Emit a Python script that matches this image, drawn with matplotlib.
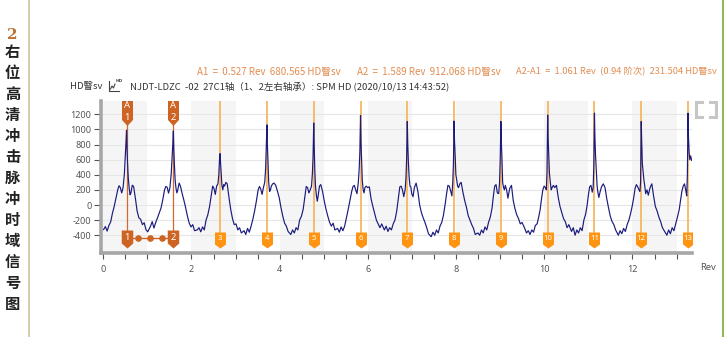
import matplotlib
matplotlib.use("Agg")
import matplotlib.pyplot as plt
import numpy as np
from matplotlib.path import Path
from matplotlib.lines import Line2D
from matplotlib.ticker import FixedLocator, MultipleLocator

plt.rcParams['font.family'] = ['Noto Sans CJK SC', 'DejaVu Sans']

# ---- data -------------------------------------------------------------
# cursor / harmonic cursor positions (Rev)
harmonic_pos = [0.527, 1.589, 2.650, 3.711, 4.772, 5.833, 6.894,
                7.955, 9.016, 10.077, 11.138, 12.199, 13.260]
harmonic_labels = ['1', '2', '3', '4', '5', '6', '7', '8', '9', '10', '11', '12', '13']
link_dots = [0.792, 1.058, 1.324]

# sampling offsets (Rev) around each impact
pulse_offsets = [-0.52, -0.48, -0.44, -0.40, -0.36, -0.32, -0.28, -0.24, -0.20,
                 -0.17, -0.14, -0.11, -0.08, -0.05, -0.03, -0.015, 0.0, 0.01,
                 0.025, 0.04, 0.06, 0.08, 0.10, 0.13, 0.16, 0.20, 0.24, 0.28,
                 0.32, 0.36, 0.40, 0.44, 0.48]

# HD amplitude for each impact segment
pulse_1 = [-325, -285, -345, -270, -225, -110, -20, 90, 200, 255, 230, 160, 225, 400, 620, 800,
           990, 750, 530, 356, 224, 136, 160, 262, 246, 92, -80, -170, -190, -260, -235, -325, -355]
pulse_2 = [-283, -220, -305, -230, -170, -105, -40, 70, 200, 246, 235, 158, 224, 400, 620, 780,
           980, 750, 520, 330, 220, 160, 200, 290, 250, 150, 60, -40, -150, -240, -290, -260, -340]
pulse_3 = [-330, -300, -355, -290, -330, -200, -130, -20, 130, 250, 220, 140, 250, 280, 400, 600,
           680, 550, 400, 260, 200, 270, 250, 300, 280, 100, -60, -180, -260, -250, -330, -300, -370]
pulse_4 = [-340, -390, -310, -360, -280, -190, -80, 50, 200, 245, 210, 140, 230, 300, 480, 750,
           1060, 800, 560, 300, 180, 200, 250, 280, 290, 260, 180, 92, -40, -150, -240, -280, -350]
pulse_5 = [-390, -330, -370, -300, -330, -200, -150, -60, 120, 245, 230, 160, 200, 250, 420, 650,
           1085, 800, 450, 250, 130, 50, 120, 250, 270, 180, 50, -60, -150, -230, -280, -240, -330]
pulse_6 = [-310, -360, -290, -340, -280, -170, -60, 60, 180, 245, 260, 200, 150, 300, 480, 700,
           1185, 850, 600, 330, 200, 160, 230, 250, 230, 240, 80, -20, -110, -200, -250, -300, -250]
pulse_7 = [-330, -280, -350, -300, -330, -250, -200, -80, 100, 240, 250, 200, 110, 200, 360, 620,
           1105, 820, 560, 380, 250, 240, 150, 110, 230, 290, 180, 0, -100, -170, -230, -300, -380]
pulse_8 = [-420, -360, -400, -330, -370, -280, -230, -130, 20, 150, 260, 250, 190, 120, 300, 550,
           1110, 850, 650, 400, 330, 250, 230, 280, 300, 170, 60, -30, -140, -200, -260, -310, -390]
pulse_9 = [-370, -400, -330, -370, -290, -330, -230, -160, -40, 120, 250, 270, 160, 150, 300, 600,
           1105, 850, 600, 300, 230, 200, 260, 200, 90, 220, 260, 60, -50, -130, -180, -250, -230]
pulse_10 = [-310, -370, -340, -390, -330, -360, -270, -250, -150, -60, 80, 200, 250, 230, 200, 450,
            1190, 900, 650, 420, 300, 200, 230, 260, 230, 260, 100, -20, -100, -180, -220, -300, -260]
pulse_11 = [-350, -300, -400, -330, -370, -300, -340, -200, -120, -20, 120, 240, 260, 170, 230, 500,
            1215, 900, 650, 480, 250, 160, 100, 180, 240, 280, 230, 80, -40, -150, -220, -260, -330]
pulse_12 = [-400, -340, -380, -310, -350, -260, -200, -110, 0, 100, 220, 270, 240, 200, 180, 300,
            1105, 850, 550, 450, 330, 250, 150, 200, 130, 230, 280, 120, -20, -80, -160, -220, -300]
pulse_13 = [-360, -400, -330, -380, -300, -340, -250, -160, -60, 60, 180, 250, 280, 190, 120, 400,
            1215, 900, 700, 600, 650, 590, 600]
pulses = [pulse_1, pulse_2, pulse_3, pulse_4, pulse_5, pulse_6, pulse_7,
          pulse_8, pulse_9, pulse_10, pulse_11, pulse_12, pulse_13]

y_ticks = [-400, -200, 0, 200, 400, 600, 800, 1000, 1200]
x_ticks = [0, 2, 4, 6, 8, 10, 12]

unit = 'HD瞖sv'
cursor_text = ['A1  =  0.527 Rev  680.565 ' + unit,
               'A2  =  1.589 Rev  912.068 ' + unit,
               'A2-A1  =  1.061 Rev  (0.94 阶次)  231.504 ' + unit]
title_text = 'NJDT-LDZC  -02  27C1轴（1、2左右轴承）: SPM HD (2020/10/13 14:43:52)'
side_title = ['右', '位', '高', '清', '冲', '击', '脉', '冲', '时', '域', '信', '号', '图']

# ---- figure -----------------------------------------------------------
W, H = 725, 337
fig = plt.figure(figsize=(W / 100, H / 100), dpi=100)
fig.patch.set_facecolor('white')


def fx(px):
    return px / W


def fy(py):
    return 1 - py / H


ax = fig.add_axes([fx(101), fy(253), fx(692) - fx(101), fy(101) - fy(253)])
ax.set_xlim(-0.052, 13.35)
ax.set_ylim(-635, 1376)
ax.set_facecolor('white')

# alternating column bands
for start in range(0, 14, 2):
    ax.axvspan(start, min(start + 1, 13.35), color='#f5f5f5', lw=0, zorder=0)

# horizontal grid
for yv in y_ticks:
    ax.axhline(yv, color='#e6e6e6', lw=0.8, zorder=0.5)

# waveform
trace_x, trace_y = [], []
for pos, vals in zip(harmonic_pos, pulses):
    for off, v in zip(pulse_offsets, vals):
        trace_x.append(pos + off)
        trace_y.append(v)

# cursor lines
xt = ax.get_xaxis_transform()
for i, pos in enumerate(harmonic_pos):
    if i < 2:
        ax.plot([pos, pos], [0.06, 1.0], transform=xt, color='#d2692a', lw=0.9, zorder=2)
    else:
        ax.plot([pos, pos], [0.06, 1.0], transform=xt, color='#f6b660', lw=1.3, zorder=2)

ax.plot(trace_x, trace_y, color='#1b1b7d', lw=0.85, zorder=3)


def flag_path(w, h, tip):
    verts = [(-w / 2, h / 2), (w / 2, h / 2), (w / 2, -h / 2 + tip), (0, -h / 2),
             (-w / 2, -h / 2 + tip), (-w / 2, h / 2)]
    codes = [Path.MOVETO, Path.LINETO, Path.LINETO, Path.LINETO, Path.LINETO, Path.CLOSEPOLY]
    return Path(verts, codes)


def yfrac(py):
    return (253 - py) / 152.0


dark = '#cd6424'
bright = '#ff9412'
latin = ['Noto Sans', 'DejaVu Sans']

# A1 / A2 cursor heads at the top
top_flag = flag_path(11, 25, 6)
for i, pos in enumerate(harmonic_pos[:2]):
    ax.plot([pos], [yfrac(112.5)], transform=xt, marker=top_flag, ms=25 * 0.72,
            color=dark, mew=0, zorder=5, clip_on=False)
    ax.text(pos, yfrac(106), 'A', transform=xt, color='white', fontsize=6.8,
            ha='center', va='center', zorder=6, family=latin)
    ax.text(pos, yfrac(117.5), harmonic_labels[i], transform=xt, color='white', fontsize=6.8,
            ha='center', va='center', zorder=6, family=latin)

# link between cursor 1 and 2
ax.plot([harmonic_pos[0], harmonic_pos[1]], [yfrac(238)] * 2, transform=xt,
        color=dark, lw=1.0, zorder=4)
ax.plot(link_dots, [yfrac(238)] * len(link_dots), transform=xt, ls='none',
        marker='o', ms=4.8, color=dark, mew=0, zorder=4)

# bottom cursor heads
low_flag = flag_path(11.5, 18, 5)
small_flag = flag_path(11, 16, 4)
for i, pos in enumerate(harmonic_pos):
    if i < 2:
        ax.plot([pos], [yfrac(239)], transform=xt, marker=low_flag, ms=18 * 0.72,
                color=dark, mew=0, zorder=5)
        ax.text(pos, yfrac(237.5), harmonic_labels[i], transform=xt, color='white',
                fontsize=6.8, ha='center', va='center', zorder=6, family=latin)
    else:
        ax.plot([pos], [yfrac(239.5)], transform=xt, marker=small_flag, ms=16 * 0.72,
                color=bright, mew=0, zorder=5)
        ax.text(pos, yfrac(238), harmonic_labels[i], transform=xt, color='white',
                fontsize=5.6, ha='center', va='center', zorder=6, family=latin)

# axes styling
for s in ['top', 'right']:
    ax.spines[s].set_visible(False)
for s in ['left', 'bottom']:
    ax.spines[s].set_color('#a6a6a6')
    ax.spines[s].set_linewidth(2.6)
    ax.spines[s].set_zorder(7)

ax.yaxis.set_major_locator(FixedLocator(y_ticks))
ax.set_yticklabels([str(v) for v in y_ticks])
ax.xaxis.set_major_locator(FixedLocator(x_ticks))
ax.set_xticklabels([str(v) for v in x_ticks])
ax.xaxis.set_minor_locator(MultipleLocator(0.5))
ax.tick_params(axis='y', length=5, width=0.8, color='#555555', pad=2,
               labelsize=6.5, labelcolor='#555555')
ax.tick_params(axis='x', which='both', length=4, width=0.8, color='#555555', pad=5,
               labelsize=6.5, labelcolor='#555555')
for lab in ax.get_xticklabels() + ax.get_yticklabels():
    lab.set_family(latin)

fig.text(fx(700), fy(268), 'Rev', fontsize=6.8, color='#555555', va='center', ha='left',
         family=latin)

# header lines
for txt, px, size in zip(cursor_text, [197, 357, 516], [7.0, 7.0, 6.7]):
    fig.text(fx(px), fy(72), txt, fontsize=size, color='#e28d52', va='center', ha='left')
fig.text(fx(70), fy(86), unit, fontsize=6.8, color='#333333', va='center', ha='left')
fig.text(fx(130), fy(86), title_text, fontsize=6.8, color='#333333', va='center', ha='left')

# small chart glyph before the title
icon = [([109, 109, 119], [81, 91, 91]),
        ([110.5, 112, 113.5, 115], [89, 86, 88, 84])]
for xs, ys in icon:
    fig.add_artist(Line2D([fx(v) for v in xs], [fy(v) for v in ys], color='#444444', lw=0.8))
fig.text(fx(116), fy(81), 'HD', fontsize=3.2, color='#444444', va='center', ha='left',
         family=['DejaVu Sans'], weight='bold')

# fullscreen glyph
g = '#c6c6c6'
corners = [([696, 696, 702], [108, 102, 102]), ([710, 716, 716], [102, 102, 108]),
           ([696, 696, 702], [111, 117, 117]), ([710, 716, 716], [117, 117, 111])]
for xs, ys in corners:
    fig.add_artist(Line2D([fx(v) for v in xs], [fy(v) for v in ys], color=g, lw=2.2,
                          solid_joinstyle='miter'))

# page side title and rules
fig.add_artist(Line2D([fx(29), fx(29)], [0, 1], color='#cbc69a', lw=1.2))
fig.add_artist(Line2D([fx(723), fx(723)], [0, 1], color='#8dbb5a', lw=1.5))
fig.text(fx(12.5), fy(35), '2', fontsize=11, color='#b8733a', ha='center', va='center',
         weight='bold', family=['DejaVu Serif'])
for i, ch in enumerate(side_title):
    fig.text(fx(12.5), fy(52 + 21 * i), ch, fontsize=11, color='#222222', ha='center',
             va='center', weight='bold')

fig.savefig('out.png', dpi=100)
